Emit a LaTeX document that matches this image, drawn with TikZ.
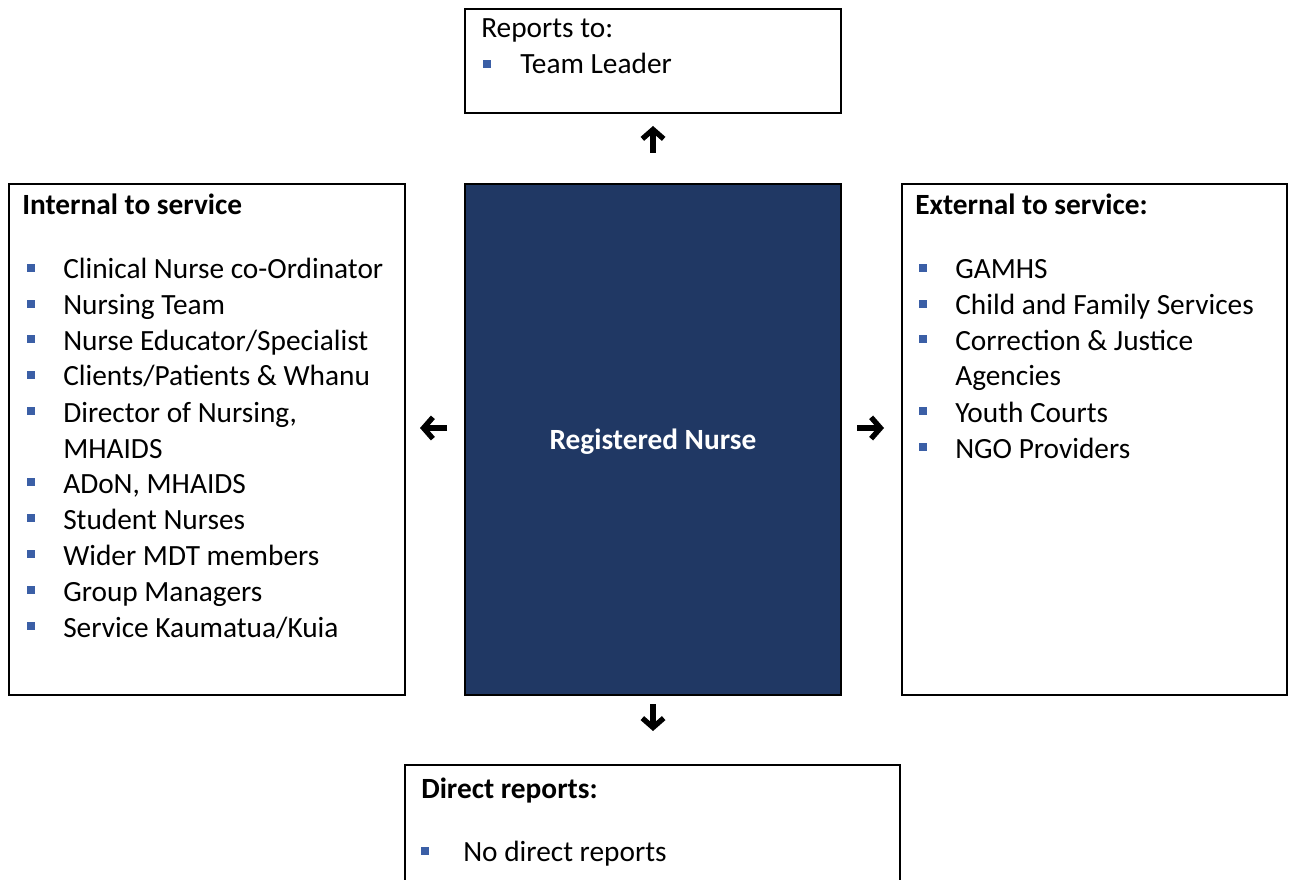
\documentclass[tikz,border=0pt]{standalone}
\usepackage{fontspec}
\setmainfont{Carlito}
\usetikzlibrary{arrows.meta}

\definecolor{navy}{HTML}{203864}
\definecolor{bulletblue}{HTML}{3B5FA6}

\tikzset{
  entry/.style={anchor=base west, inner sep=0pt, font=\fontsize{22}{26}\selectfont},
  head/.style={entry, font=\fontsize{22}{26}\selectfont\bfseries},
  dot/.style={fill=bulletblue, inner sep=0pt, minimum size=6pt},
  frame/.style={line width=1.5pt},
  link/.style={line width=4pt, -{Straight Barb[length=7pt,width=16pt,line width=4pt]}}
}

\begin{document}
\begin{tikzpicture}[x=0.75pt,y=-0.75pt]

	\useasboundingbox (0,0) rectangle (1295,880);
	\clip (0,0) rectangle (1295,880);

	% boxes
	\draw[frame] (465,9) rectangle (841,113);
	\draw[frame] (9,184) rectangle (405,695);
	\draw[frame,fill=navy] (465,184) rectangle (841,695);
	\draw[frame] (902,184) rectangle (1287,695);
	\draw[frame] (405,765) rectangle (900,890);

	% reports to
	\node[entry] (rep) at (481,38) {Reports to:};
	\node[dot] (repd) at (487,64) {};
	\node[entry] (lead) at (520,74) {Team Leader};

	% centre
	\node[text=white, font=\fontsize{22}{26}\selectfont\bfseries] (rn) at (653,442) {Registered Nurse};

	% internal
	\node[head] (int) at (22,215) {Internal to service};
	\node[dot] (i1) at (31,268) {};     \node[entry] at (63,279) {Clinical Nurse co-Ordinator};
	\node[dot] (i2) at (31,304) {};     \node[entry] at (63,315) {Nursing Team};
	\node[dot] (i3) at (31,339) {};     \node[entry] at (63,350) {Nurse Educator/Specialist};
	\node[dot] (i4) at (31,375) {};     \node[entry] at (63,386) {Clients/Patients \& Whanu};
	\node[dot] (i5) at (31,411) {};     \node[entry] at (63,422) {Director of Nursing,};
	                                    \node[entry] at (63,458) {MHAIDS};
	\node[dot] (i6) at (31,482) {};     \node[entry] at (63,493) {ADoN, MHAIDS};
	\node[dot] (i7) at (31,518) {};     \node[entry] at (63,529) {Student Nurses};
	\node[dot] (i8) at (31,554) {};     \node[entry] at (63,565) {Wider MDT members};
	\node[dot] (i9) at (31,590) {};     \node[entry] at (63,601) {Group Managers};
	\node[dot] (i10) at (31,626) {};    \node[entry] at (63,637) {Service Kaumatua/Kuia};

	% external
	\node[head] (ext) at (915,215) {External to service:};
	\node[dot] (e1) at (923,268) {};    \node[entry] at (955,279) {GAMHS};
	\node[dot] (e2) at (923,304) {};    \node[entry] at (955,315) {Child and Family Services};
	\node[dot] (e3) at (923,339) {};    \node[entry] at (955,350) {Correction \& Justice};
	                                    \node[entry] at (955,386) {Agencies};
	\node[dot] (e4) at (923,411) {};    \node[entry] at (955,422) {Youth Courts};
	\node[dot] (e5) at (923,447) {};    \node[entry] at (955,458) {NGO Providers};

	% direct reports
	\node[head] (dir) at (421,798) {Direct reports:};
	\node[dot] (d1) at (425,851) {};    \node[entry] at (463,861) {No direct reports};

	% arrows
	\coordinate (upa) at (653,153);  \coordinate (upb) at (653,126);
	\coordinate (lfa) at (447,428);  \coordinate (lfb) at (420,428);
	\coordinate (rta) at (857,428);  \coordinate (rtb) at (884,428);
	\coordinate (dna) at (653,704);  \coordinate (dnb) at (653,731);
	\draw[link] (upa) -- (upb);
	\draw[link] (lfa) -- (lfb);
	\draw[link] (rta) -- (rtb);
	\draw[link] (dna) -- (dnb);

\end{tikzpicture}
\end{document}
